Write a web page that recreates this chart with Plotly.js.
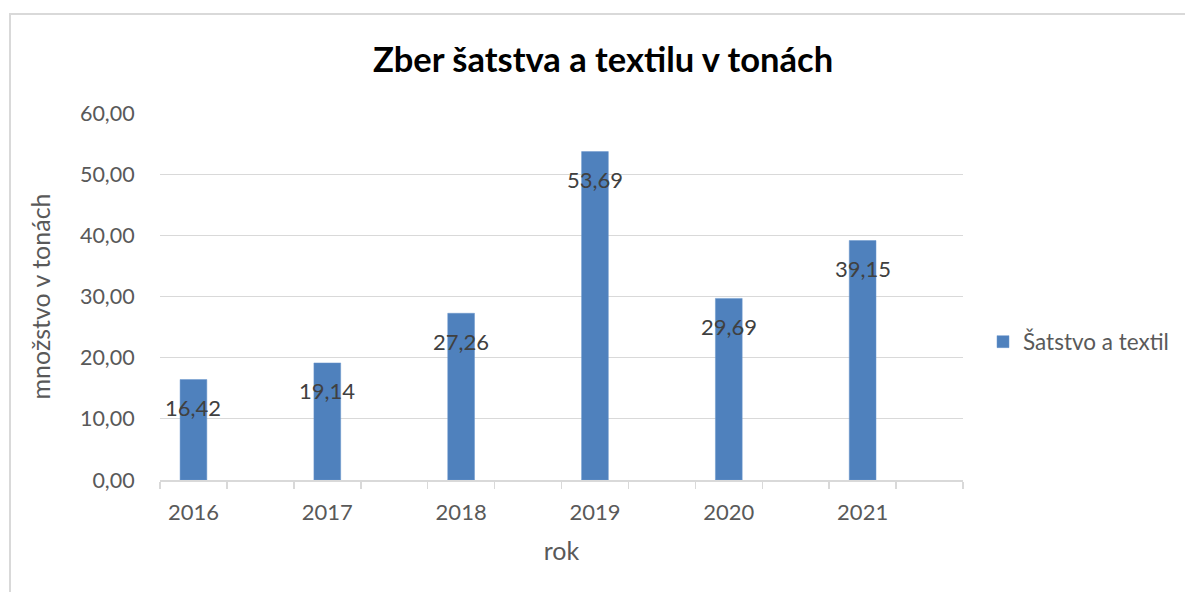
<!DOCTYPE html>
<html>
<head>
<meta charset="utf-8">
<script src="https://cdn.plot.ly/plotly-3.0.1.min.js"></script>
<style>html,body{margin:0;padding:0;background:#fff;}#chart{width:1185px;height:592px;}</style>
</head>
<body>
<div id="chart"></div>
<script>
const years = ['2016', '2017', '2018', '2019', '2020', '2021'];
const values = [16.42, 19.14, 27.26, 53.69, 29.69, 39.15];
const valueLabels = ['16,42', '19,14', '27,26', '53,69', '29,69', '39,15'];
const seriesName = 'Šatstvo a textil';
const chartTitle = 'Zber šatstva a textilu v tonách';
const xTitle = 'rok';
const yTitle = 'množstvo v tonách';
const yTickVals = [0, 10, 20, 30, 40, 50, 60];

// category slots: each year followed by an empty slot (Excel-style clustered gap)
const slots = [];
const slotText = [];
years.forEach((y, i) => { slots.push(y); slotText.push(y); slots.push('gap' + i); slotText.push(''); });

const FONT = 'Lato, "Open Sans", sans-serif';
const GREY = '#595959';

const trace = {
  type: 'bar',
  name: seriesName,
  x: years,
  y: values,
  width: 0.4,
  marker: { color: '#4f81bd', line: { color: '#6a96cc', width: 0.5 } },
  hoverinfo: 'none',
  showlegend: true
};

const annotations = years.map((y, i) => ({
  x: slots.indexOf(y), y: values[i], xref: 'x', yref: 'y',
  text: valueLabels[i], showarrow: false,
  yanchor: 'middle', xanchor: 'center', yshift: -28,
  font: { family: FONT, size: 22, color: '#404040' }
}));

const layout = {
  width: 1185, height: 592,
  paper_bgcolor: '#ffffff', plot_bgcolor: '#ffffff',
  margin: { l: 160, r: 222, t: 113, b: 112, pad: 0, autoexpand: false },
  separators: ', ',
  title: {
    text: '<b>' + chartTitle + '</b>',
    font: { family: FONT, size: 34.5, color: '#000000' },
    x: 603 / 1185, xanchor: 'center', y: 1 - 60 / 592, yanchor: 'middle'
  },
  xaxis: {
    type: 'category',
    categoryorder: 'array', categoryarray: slots,
    tickvals: slots, ticktext: slotText,
    range: [-0.5, slots.length - 0.5],
    tickson: 'boundaries',
    ticks: 'outside', ticklen: 7, tickcolor: '#d9d9d9', tickwidth: 1.5,
    ticklabelstandoff: 12,
    showline: true, linecolor: '#d9d9d9', linewidth: 1.5,
    showgrid: false, zeroline: false,
    tickfont: { family: FONT, size: 22, color: GREY },
    title: { text: xTitle, font: { family: FONT, size: 25, color: GREY }, standoff: 18 },
    fixedrange: true
  },
  yaxis: {
    range: [0, 60],
    tickvals: yTickVals,
    tickformat: '.2f',
    ticks: 'outside', ticklen: 20, tickcolor: 'rgba(0,0,0,0)',
    showgrid: true, gridcolor: '#d9d9d9', gridwidth: 1.2,
    zeroline: false, showline: false,
    tickfont: { family: FONT, size: 21.5, color: GREY },
    title: { text: yTitle, font: { family: FONT, size: 25, color: GREY }, standoff: 22 },
    fixedrange: true
  },
  legend: {
    x: (983 - 160) / 803, xanchor: 'left', y: 0.376, yanchor: 'middle',
    font: { family: FONT, size: 22.5, color: GREY },
    bgcolor: 'rgba(0,0,0,0)', itemwidth: 30
  },
  annotations: annotations,
  shapes: [{
    type: 'rect', xref: 'paper', yref: 'paper',
    x0: (10 - 160) / 803, x1: (1200 - 160) / 803,
    y0: (480 - 610) / 367, y1: (480 - 14) / 367,
    line: { color: '#d9d9d9', width: 2 }, fillcolor: 'rgba(0,0,0,0)', layer: 'below'
  }],
  bargap: 0
};

Plotly.newPlot('chart', [trace], layout, { displayModeBar: false, staticPlot: true });
</script>
</body>
</html>
